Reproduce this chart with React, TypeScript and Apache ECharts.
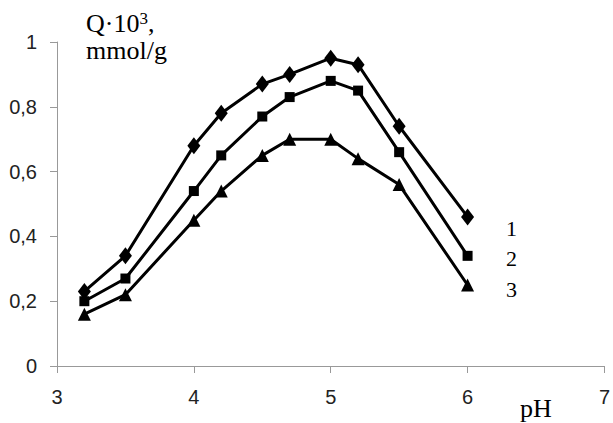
import React, { useEffect, useRef } from "react";
import * as echarts from "echarts";

const pH = [3.2, 3.5, 4.0, 4.2, 4.5, 4.7, 5.0, 5.2, 5.5, 6.0];
const series1 = [0.23, 0.34, 0.68, 0.78, 0.87, 0.9, 0.95, 0.93, 0.74, 0.46];
const series2 = [0.2, 0.27, 0.54, 0.65, 0.77, 0.83, 0.88, 0.85, 0.66, 0.34];
const series3 = [0.16, 0.22, 0.45, 0.54, 0.65, 0.7, 0.7, 0.64, 0.56, 0.25];
const seriesNames = ["1", "2", "3"];
const yAxisTitle = ["Q·10", "3", ",", "mmol/g"];
const xAxisTitle = "pH";

export default function App() {
  const ref = useRef<HTMLDivElement>(null);
  useEffect(() => {
    if (!ref.current) return;
    const chart = echarts.init(ref.current, null, { renderer: "svg" });
    const serif = "'Liberation Serif', 'Times New Roman', serif";
    const sans = "'Liberation Sans', Arial, sans-serif";
    const mk = (name: string, vals: number[], symbol: string, size: number | number[]) => ({
      name,
      type: "line",
      data: pH.map((x, i) => [x, vals[i]]),
      symbol,
      symbolSize: size,
      showAllSymbol: true,
      lineStyle: { color: "#000", width: 3 },
      itemStyle: { color: "#000" },
    });
    chart.setOption({
      animation: false,
      backgroundColor: "#fff",
      grid: { left: 57, right: 8, top: 42, bottom: 57, containLabel: false },
      xAxis: {
        type: "value",
        min: 3,
        max: 7,
        interval: 1,
        axisLine: { show: true, onZero: false, lineStyle: { color: "#999", width: 1 } },
        axisTick: { show: true, length: 7, lineStyle: { color: "#999" } },
        axisLabel: { color: "#222", fontFamily: sans, fontSize: 20, margin: 21 },
        splitLine: { show: false },
      },
      yAxis: {
        type: "value",
        min: 0,
        max: 1,
        interval: 0.2,
        axisLine: { show: true, lineStyle: { color: "#999", width: 1 } },
        axisTick: { show: true, length: 7, lineStyle: { color: "#999" } },
        axisLabel: {
          color: "#222",
          fontFamily: sans,
          fontSize: 20,
          margin: 20,
          formatter: (v: number) => String(Math.round(v * 10) / 10).replace(".", ","),
        },
        splitLine: { show: false },
      },
      series: [
        mk(seriesNames[0], series1, "diamond", [13, 17]),
        mk(seriesNames[1], series2, "rect", 10),
        mk(seriesNames[2], series3, "triangle", 13),
      ],
      graphic: [
        {
          type: "text",
          left: 86,
          top: 10,
          style: {
            text: `{a|${yAxisTitle[0]}}{s|${yAxisTitle[1]}}{a|${yAxisTitle[2]}}\n{a|${yAxisTitle[3]}}`,
            fill: "#000",
            rich: {
              a: { fontFamily: serif, fontSize: 26, lineHeight: 27, fill: "#000" },
              s: { fontFamily: serif, fontSize: 17, lineHeight: 17, verticalAlign: "top", fill: "#000" },
            },
          },
        },
        { type: "text", left: 520, top: 395, style: { text: xAxisTitle, font: `26px ${serif}`, fill: "#000" } },
        { type: "text", left: 506, top: 217, style: { text: seriesNames[0], font: `22px ${serif}`, fill: "#000" } },
        { type: "text", left: 506, top: 247, style: { text: seriesNames[1], font: `22px ${serif}`, fill: "#000" } },
        { type: "text", left: 506, top: 278, style: { text: seriesNames[2], font: `22px ${serif}`, fill: "#000" } },
      ],
    });
    return () => chart.dispose();
  }, []);
  return (
    <div
      ref={ref}
      style={{ position: "absolute", left: 0, top: 0, width: 613, height: 423 }}
    />
  );
}
